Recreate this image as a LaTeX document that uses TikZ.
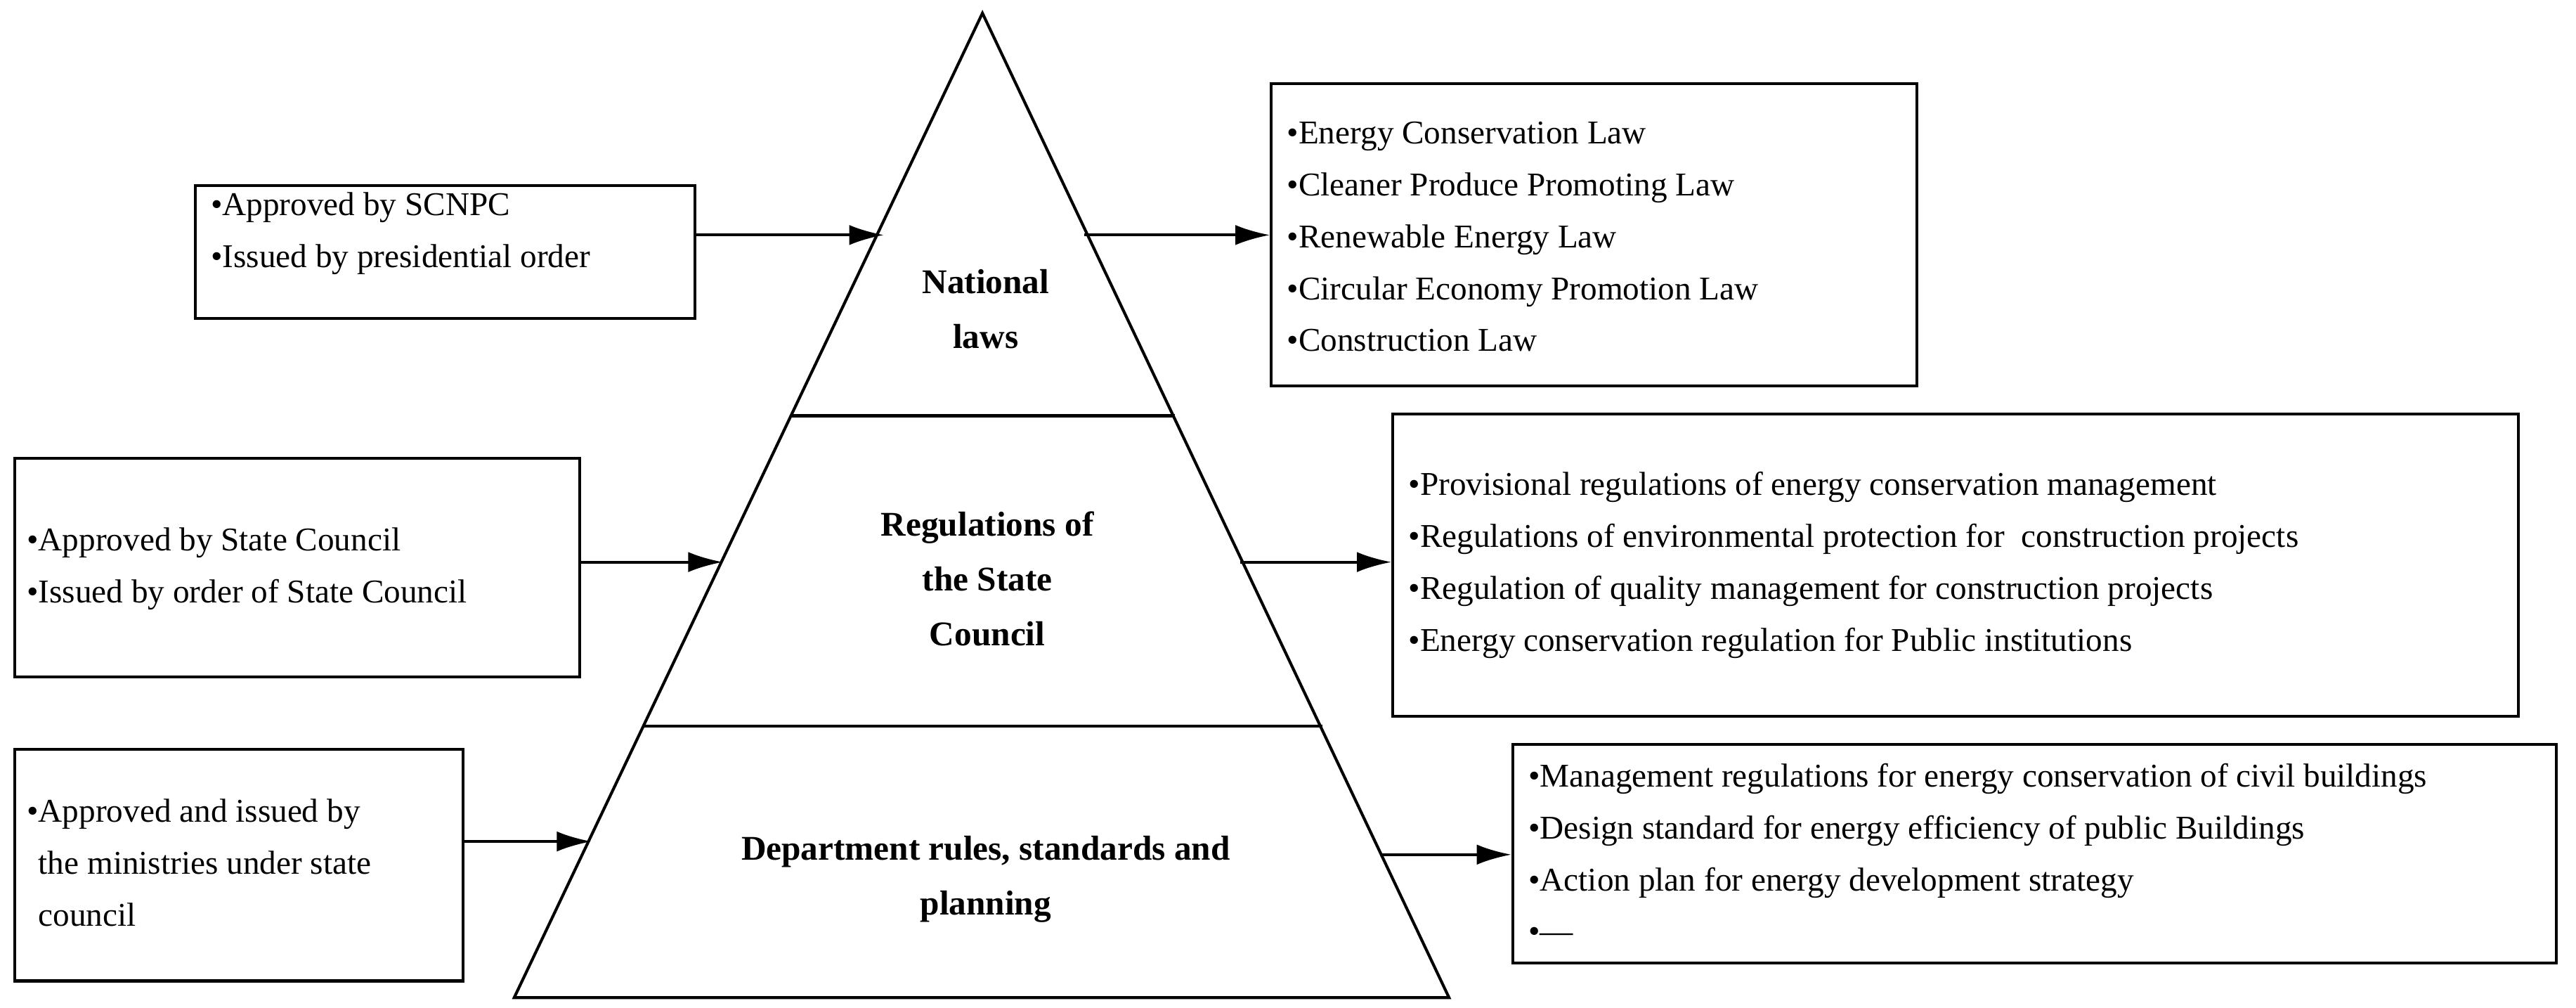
\documentclass[tikz,border=0pt]{standalone}
\usepackage{fontspec}
\setmainfont{Liberation Serif}
\usetikzlibrary{arrows.meta, positioning}

\tikzset{
  box/.style={draw, line width=1pt, anchor=north west, inner sep=0pt},
  items/.style={anchor=west, align=left, inner sep=0pt, font=\fontsize{11.5}{18}\selectfont},
  level/.style={align=center, font=\fontsize{12}{19}\selectfont\bfseries},
  link/.style={line width=1pt, -{Latex[length=12pt, width=7pt]}}
}

\begin{document}
\begin{tikzpicture}[x=0.02cm, y=-0.02cm]
  \useasboundingbox (0,0) rectangle (1568,613);

  % pyramid
  \coordinate (top) at (598,8);
  \coordinate (bl) at (313,607);
  \coordinate (br) at (882,607);
  \draw[line width=1pt] (top) -- (br) -- (bl) -- cycle;
  \draw[line width=1pt] (481,253) -- (715,253);
  \draw[line width=1pt] (391,442) -- (805,442);

  \node[level] (nat) at (600,188) {National\\laws};
  \node[level] (reg) at (601,352) {Regulations of\\the State\\Council};
  \node[level] (dep) at (600,535) {Department rules, standards and\\planning};

  % left boxes
  \node[box, minimum width=304*0.02cm, minimum height=81*0.02cm] (ap1) at (118,112) {};
  \node[items] (ap1t) at (128,142) {•Approved by SCNPC\\•Issued by presidential order};
  \node[box, minimum width=344*0.02cm, minimum height=133*0.02cm] (ap2) at (8,278) {};
  \node[items] (ap2t) at (16,346) {•Approved by State Council\\•Issued by order of State Council};
  \node[box, minimum width=273*0.02cm, minimum height=141*0.02cm] (ap3) at (8,455) {};
  \node[items] (ap3t) at (16,525) {•Approved and issued by\\\phantom{•}the ministries under state\\\phantom{•}council};

  % right boxes
  \node[box, minimum width=393*0.02cm, minimum height=184*0.02cm] (law) at (773,50) {};
  \node[items] (lawt) at (783,144) {•Energy Conservation Law\\•Cleaner Produce Promoting Law\\•Renewable Energy Law\\•Circular Economy Promotion Law\\•Construction Law};
  \node[box, minimum width=685*0.02cm, minimum height=184*0.02cm] (rg) at (847,251) {};
  \node[items] (rgt) at (857,344) {•Provisional regulations of energy conservation management\\•Regulations of environmental protection for \ construction projects\\•Regulation of quality management for construction projects\\•Energy conservation regulation for Public institutions};
  \node[box, minimum width=635*0.02cm, minimum height=133*0.02cm] (dp) at (920,452) {};
  \node[items] (dpt) at (930,519) {•Management regulations for energy conservation of civil buildings\\•Design standard for energy efficiency of public Buildings\\•Action plan for energy development strategy\\•---};

  % arrows
  \coordinate (e1) at (538,143);
  \coordinate (e2) at (440,342);
  \coordinate (e3) at (360,512);
  \coordinate (s1) at (660,143);
  \coordinate (s2) at (755,342);
  \coordinate (s3) at (840,520);
  \draw[link] (ap1.east |- e1) -- (e1);
  \draw[link] (ap2.east |- e2) -- (e2);
  \draw[link] (ap3.east |- e3) -- (e3);
  \draw[link] (s1) -- (law.west |- s1);
  \draw[link] (s2) -- (rg.west |- s2);
  \draw[link] (s3) -- (dp.west |- s3);
\end{tikzpicture}
\end{document}
